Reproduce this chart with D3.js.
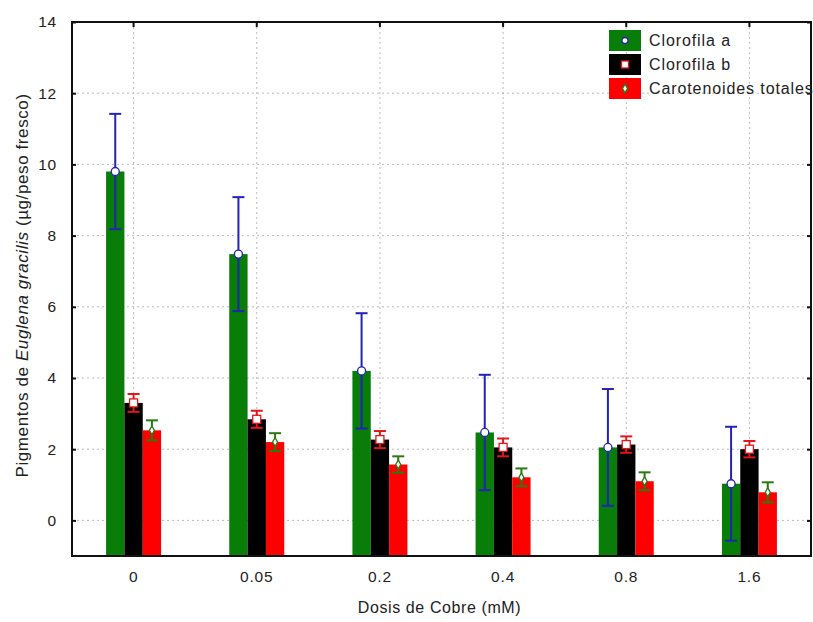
<!DOCTYPE html>
<html>
<head>
<meta charset="utf-8">
<script src="https://cdn.jsdelivr.net/npm/d3@7"></script>
<style>
  body { margin: 0; background: #fff; }
  text { font-family: "Liberation Sans", Arial, sans-serif; fill: #222; }
</style>
</head>
<body>
<div id="chart"></div>
<script>
// data
var doses = ["0", "0.05", "0.2", "0.4", "0.8", "1.6"];
var series = ["Clorofila a", "Clorofila b", "Carotenoides totales"];
var cloroA = [9.8, 7.48, 4.2, 2.47, 2.05, 1.03];
var cloroAErr = [1.62, 1.6, 1.62, 1.62, 1.64, 1.6];
var cloroB = [3.3, 2.84, 2.27, 2.05, 2.13, 2.0];
var cloroBErr = [0.25, 0.24, 0.24, 0.25, 0.23, 0.23];
var carot = [2.53, 2.2, 1.57, 1.21, 1.1, 0.79];
var carotErr = [0.28, 0.25, 0.23, 0.25, 0.25, 0.28];
var yTicks = [0, 2, 4, 6, 8, 10, 12, 14];

var barColor = ["#087d08", "#000000", "#ff0000"];
var errColor = ["#2323b4", "#e3161b", "#2a7a12"];

var width = 813, height = 622;
var margin = {top: 22, right: 2, bottom: 66, left: 72};
var w = width - margin.left - margin.right;
var h = height - margin.top - margin.bottom;

var svg = d3.select("#chart").append("svg")
    .attr("width", width)
    .attr("height", height);
var g = svg.append("g")
    .attr("transform", "translate(" + margin.left + "," + margin.top + ")");

var x = d3.scaleBand().domain(doses).range([0, w]).padding(0);
var xs = d3.scaleBand().domain(series).range([-27.5, 27.5]).padding(0);
var y = d3.scaleLinear().domain([-1, 14]).range([h, 0]);

// grid
g.selectAll(".hgrid").data(yTicks).enter().append("line")
    .attr("x1", 0).attr("x2", w)
    .attr("y1", function(d) { return y(d); })
    .attr("y2", function(d) { return y(d); })
    .attr("stroke", "#bbb").attr("stroke-dasharray", "2,3");
g.selectAll(".vgrid").data(doses).enter().append("line")
    .attr("x1", function(d) { return x(d) + x.bandwidth() / 2; })
    .attr("x2", function(d) { return x(d) + x.bandwidth() / 2; })
    .attr("y1", 0).attr("y2", h)
    .attr("stroke", "#bbb").attr("stroke-dasharray", "2,3");

var rows = doses.map(function(d, i) {
    return {dose: d, vals: [
        {s: 0, v: cloroA[i], e: cloroAErr[i]},
        {s: 1, v: cloroB[i], e: cloroBErr[i]},
        {s: 2, v: carot[i], e: carotErr[i]}
    ]};
});

var grp = g.selectAll(".grp").data(rows).enter().append("g")
    .attr("transform", function(d) {
        return "translate(" + (x(d.dose) + x.bandwidth() / 2) + ",0)";
    });

grp.selectAll("rect").data(function(d) { return d.vals; }).enter().append("rect")
    .attr("x", function(d) { return xs(series[d.s]); })
    .attr("width", xs.bandwidth())
    .attr("y", function(d) { return y(d.v); })
    .attr("height", function(d) { return y(-1) - y(d.v); })
    .attr("fill", function(d) { return barColor[d.s]; });

var eb = grp.selectAll(".eb").data(function(d) { return d.vals; }).enter().append("g")
    .attr("transform", function(d) {
        return "translate(" + (xs(series[d.s]) + xs.bandwidth() / 2) + ",0)";
    })
    .attr("stroke", function(d) { return errColor[d.s]; })
    .attr("stroke-width", 2);
eb.append("line")
    .attr("y1", function(d) { return y(d.v + d.e); })
    .attr("y2", function(d) { return y(d.v - d.e); });
eb.append("line").attr("x1", -6).attr("x2", 6)
    .attr("y1", function(d) { return y(d.v + d.e); })
    .attr("y2", function(d) { return y(d.v + d.e); });
eb.append("line").attr("x1", -6).attr("x2", 6)
    .attr("y1", function(d) { return y(d.v - d.e); })
    .attr("y2", function(d) { return y(d.v - d.e); });

function marker(sel, s) {
    sel.attr("stroke-width", 1.3).attr("fill", "#fff");
    if (s === 0) {
        sel.append("circle").attr("r", 4);
    } else if (s === 1) {
        sel.append("rect").attr("x", -4).attr("y", -4).attr("width", 8).attr("height", 8);
    } else {
        sel.append("path").attr("d", d3.symbol(d3.symbolDiamond, 22)());
    }
}
eb.each(function(d) {
    var m = d3.select(this).append("g").attr("transform", "translate(0," + y(d.v) + ")");
    marker(m, d.s);
});

// frame
g.append("rect").attr("width", w).attr("height", h)
    .attr("fill", "none").attr("stroke", "#111").attr("stroke-width", 2);

// axes
var yAxis = g.append("g").call(d3.axisLeft(y).tickValues(yTicks).tickSize(-4).tickPadding(15));
var yAxisR = g.append("g").attr("transform", "translate(" + w + ",0)")
    .call(d3.axisRight(y).tickValues(yTicks).tickSize(-4).tickFormat(""));
var xAxis = g.append("g").attr("transform", "translate(0," + h + ")")
    .call(d3.axisBottom(x).tickSize(0).tickPadding(15));
var xAxisT = g.append("g")
    .call(d3.axisTop(x).tickSize(-5).tickFormat(""));
[yAxis, yAxisR, xAxis, xAxisT].forEach(function(a) {
    a.select(".domain").remove();
    a.selectAll("line").attr("stroke", "#111").attr("stroke-width", 2);
    a.selectAll("text").attr("font-size", 15.5).attr("fill", "#222")
        .style("font-family", "'Liberation Sans', Arial, sans-serif")
        .attr("letter-spacing", 0.8);
});

// titles
svg.append("text")
    .attr("x", margin.left + w / 2 - 2).attr("y", 613)
    .attr("text-anchor", "middle").attr("font-size", 16).attr("letter-spacing", 0.6)
    .text("Dosis de Cobre (mM)");

var yt = svg.append("text")
    .attr("transform", "translate(28," + (margin.top + y(6.6)) + ") rotate(-90)")
    .attr("text-anchor", "middle").attr("font-size", 17).attr("letter-spacing", 0.6);
yt.append("tspan").text("Pigmentos de ");
yt.append("tspan").attr("font-style", "italic").text("Euglena gracilis");
yt.append("tspan").text(" (\u00b5g/peso fresco)");

// legend
var lg = svg.append("g").attr("transform", "translate(609,30)");
var li = lg.selectAll(".li").data(series).enter().append("g")
    .attr("transform", function(d, i) { return "translate(0," + i * 24 + ")"; });
li.append("rect").attr("width", 32).attr("height", 21)
    .attr("fill", function(d, i) { return barColor[i]; });
li.each(function(d, i) {
    var m = d3.select(this).append("g").attr("transform", "translate(16,10.5)")
        .attr("stroke", errColor[i]);
    marker(m, i);
    m.selectAll("circle").attr("r", 3);
    m.selectAll("rect").attr("x", -3.5).attr("y", -3.5).attr("width", 7).attr("height", 7);
});
li.append("text").attr("x", 40).attr("y", 16)
    .attr("font-size", 16).attr("letter-spacing", 0.9)
    .text(function(d) { return d; });
</script>
</body>
</html>
